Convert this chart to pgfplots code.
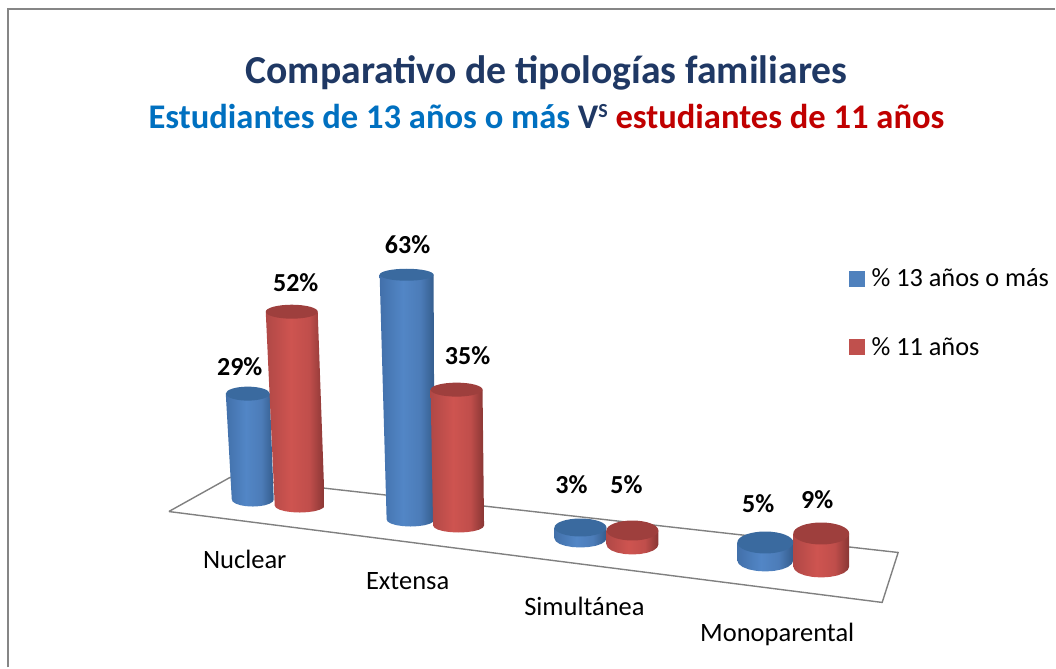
\documentclass[border=0pt]{standalone}
\usepackage{pgfplots}
\pgfplotsset{compat=1.18}
\usepackage{fontspec}
\setmainfont{Carlito}
\definecolor{cBlue}{HTML}{4F81BD}
\definecolor{cRed}{HTML}{C0504D}
\definecolor{topblue}{HTML}{3A6A9F}
\definecolor{topred}{HTML}{9E3F3D}
\definecolor{frameG}{HTML}{868686}
\definecolor{titleC}{HTML}{1F3864}
\definecolor{subBlue}{HTML}{0070C0}
\definecolor{subRed}{HTML}{C00000}
\definecolor{bA}{RGB}{66,112,170}
\definecolor{bB}{RGB}{82,134,198}
\definecolor{bC}{RGB}{76,124,184}
\definecolor{bD}{RGB}{52,92,140}
\definecolor{rA}{RGB}{176,72,70}
\definecolor{rB}{RGB}{206,84,80}
\definecolor{rC}{RGB}{192,78,75}
\definecolor{rD}{RGB}{136,54,52}
\pgfdeclarehorizontalshading{bluecyl}{100bp}{
  color(0bp)=(bA); color(25bp)=(bA); color(46bp)=(bB);
  color(62bp)=(bC); color(75bp)=(bD); color(100bp)=(bD)}
\pgfdeclarehorizontalshading{redcyl}{100bp}{
  color(0bp)=(rA); color(25bp)=(rA); color(46bp)=(rB);
  color(62bp)=(rC); color(75bp)=(rD); color(100bp)=(rD)}
\pgfdeclareplotmark{disc}{\pgfpathcircle{\pgfpointorigin}{\pgfplotmarksize}\pgfusepathqfill}
% kind, top cx cy rx ry, bottom cx cy rx ry
\newcommand\cyl[9]{%
  \addplot[forget plot,draw=none,shade,shading=#1cyl,mark=none] coordinates
    {(#2-#4,#3) (#2+#4,#3)
     (#6+#8,#7) (#6+.95*#8,#7+.31*#9) (#6+.81*#8,#7+.59*#9) (#6+.59*#8,#7+.81*#9)
     (#6+.31*#8,#7+.95*#9) (#6,#7+#9) (#6-.31*#8,#7+.95*#9) (#6-.59*#8,#7+.81*#9)
     (#6-.81*#8,#7+.59*#9) (#6-.95*#8,#7+.31*#9) (#6-#8,#7)};
  \addplot[forget plot,only marks,mark=disc,mark size=1pt,
    mark options={xscale=#4,yscale=#5,fill=top#1}] coordinates {(#2,#3)};
}
\pgfplotstableread[col sep=comma]{
x,y,lab
240,367,29\%
296,283,52\%
408,245,63\%
468,356,35\%
572,485,3\%
627,485,5\%
759,504,5\%
818,500,9\%
}\valuelabels
\pgfplotstableread[col sep=comma]{
x,y,lab
245,560,Nuclear
408,582,Extensa
585,607,Simultánea
778,635,Monoparental
}\catlabels
\begin{document}
\begin{tikzpicture}
\begin{axis}[
  width=1056pt,height=668pt,scale only axis,
  xmin=0,xmax=1056,ymin=0,ymax=668,y dir=reverse,
  hide axis,clip=false,
  legend style={at={(axis cs:850,267)},anchor=north west,draw=none,fill=none,
    inner sep=0pt,outer sep=0pt,font=\fontsize{26.3}{26.3}\selectfont,row sep=45pt,
    cells={anchor=west}},
  legend cell align=left,
]
\path (axis cs:0,0) rectangle (axis cs:1056,668);
\addlegendimage{legend image code/.code={\fill[cBlue] (0pt,-7.5pt) rectangle (15pt,7.5pt);\path (20pt,0pt);}}
\addlegendentry{\% 13 años o más}
\addlegendimage{legend image code/.code={\fill[cRed] (0pt,-7.5pt) rectangle (15pt,7.5pt);\path (20pt,0pt);}}
\addlegendentry{\% 11 años}
% frame
\addplot[forget plot,frameG,line width=2pt,mark=none] coordinates {(8,668) (8,9.5) (1056,9.5)};
% floor
\addplot[forget plot,color=black!50,line width=1.4pt,mark=none] coordinates
  {(169,512) (230,478) (899,553) (883,603) (169,512)};
% cylinders
\cyl{blue}{248}{394}{22}{7}{253}{500}{21}{7}
\cyl{red}{292}{312}{26}{7}{300}{506}{25}{7}
\cyl{blue}{407}{275}{27}{6}{411}{520}{24}{7}
\cyl{red}{457}{390}{26}{7}{459}{526}{25.5}{7}
\cyl{blue}{581}{528}{26}{9}{581}{539}{26}{9}
\cyl{red}{633}{531}{26}{10}{633}{545}{26}{10}
\cyl{blue}{766}{543}{28}{11}{766}{561}{28}{11}
\cyl{red}{822}{534}{28}{11}{822}{567}{28}{11}
% data labels
\addplot[forget plot,only marks,mark=none,point meta=explicit symbolic,
  nodes near coords,
  nodes near coords style={anchor=center,inner sep=0pt,
    font=\fontsize{26}{26}\selectfont\bfseries,text=black}]
  table[x=x,y=y,meta=lab] {\valuelabels};
% category labels
\addplot[forget plot,only marks,mark=none,point meta=explicit symbolic,
  nodes near coords,
  nodes near coords style={anchor=center,inner sep=0pt,
    font=\fontsize{26.5}{26.5}\selectfont,text=black}]
  table[x=x,y=y,meta=lab] {\catlabels};
% titles
\node[anchor=center,inner sep=0pt,text=titleC,font=\fontsize{39.7}{40}\selectfont\bfseries]
  at (axis cs:547,73) {Comparativo de tipologías familiares};
\node[anchor=center,inner sep=0pt,font=\fontsize{34.6}{35}\selectfont\bfseries]
  at (axis cs:547,117) {\textcolor{subBlue}{Estudiantes de 13 años o más} \textcolor{titleC}{V\raisebox{11pt}{\fontsize{20}{20}\selectfont S}} \textcolor{subRed}{estudiantes de 11 años}};
\end{axis}
\end{tikzpicture}
\end{document}
